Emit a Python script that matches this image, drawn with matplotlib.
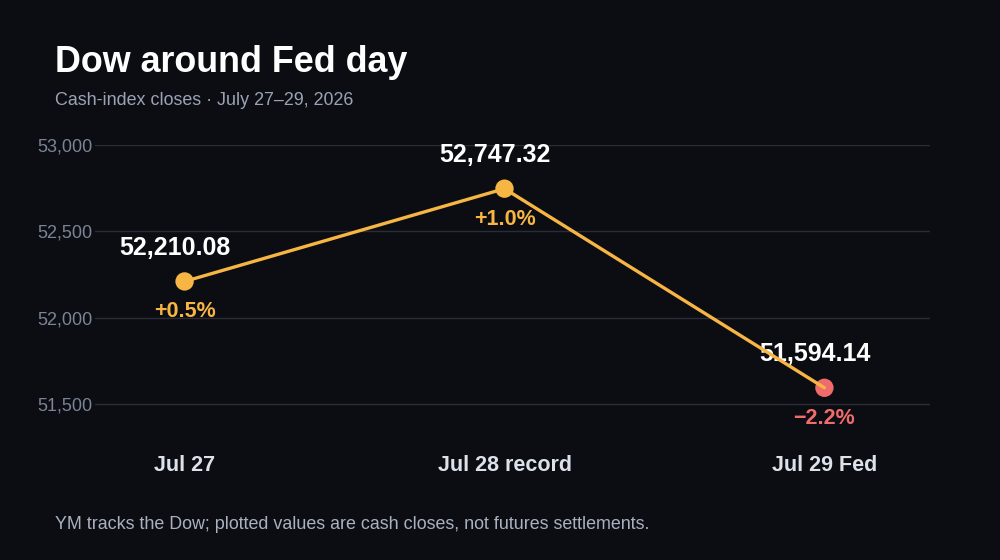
import matplotlib.pyplot as plt
import numpy as np

plt.rcParams['font.family'] = ['Liberation Sans', 'DejaVu Sans']

days = ['Jul 27', 'Jul 28 record', 'Jul 29 Fed']
closes = [52210.08, 52747.32, 51594.14]
changes = [0.5, 1.0, -2.2]
yticks = [51500, 52000, 52500, 53000]

bg = '#0b0d12'
orange = '#f7b543'
red = '#f06b6b'

fig = plt.figure(figsize=(10, 5.6), dpi=100, facecolor=bg)
ax = fig.add_axes([0.095, 0.223, 0.835, 0.518], facecolor=bg)

x = np.arange(len(days))
colors = [orange if c >= 0 else red for c in changes]

ax.plot(x, closes, color=orange, lw=2.4, zorder=3, solid_capstyle='round')
ax.scatter(x, closes, s=175, c=colors, zorder=2, edgecolors='none')

for xi, v, c, col in zip(x, closes, changes, colors):
    # value labels sit a bit left of the point, under the line
    ax.annotate(f'{v:,.2f}', (xi, v), xytext=(-7, 24), textcoords='offset points',
                ha='center', va='center', color='white', fontsize=18, fontweight='bold',
                zorder=2.5)
    sign = '+' if c >= 0 else '\u2212'
    ax.annotate(f'{sign}{abs(c):.1f}%', (xi, v), xytext=(0, -22), textcoords='offset points',
                ha='center', va='center', color=col, fontsize=15.5, fontweight='bold')

ax.set_xlim(-0.28, 2.33)
ax.set_ylim(51320, 53000)
ax.set_yticks(yticks)
ax.set_yticklabels([f'{t:,}' for t in yticks], color='#7b8496', fontsize=13)
ax.set_xticks(x)
ax.set_xticklabels(days, color='#dde2ea', fontsize=15.5, fontweight='bold')
ax.tick_params(axis='both', length=0)
ax.tick_params(axis='x', pad=14)
ax.tick_params(axis='y', pad=2)
ax.grid(axis='y', color='#2a2d35', lw=1)
ax.set_axisbelow(True)
for s in ax.spines.values():
    s.set_visible(False)

fig.text(0.055, 0.889, 'Dow around Fed day', color='white', fontsize=25.8, fontweight='bold', va='center')
fig.text(0.055, 0.820, 'Cash-index closes \u00b7 July 27\u201329, 2026', color='#9aa3b5', fontsize=12.9, va='center')
fig.text(0.055, 0.064, 'YM tracks the Dow; plotted values are cash closes, not futures settlements.',
         color='#a9b0c0', fontsize=12.9, va='center')

fig.savefig('out.png', dpi=100, facecolor=bg)
